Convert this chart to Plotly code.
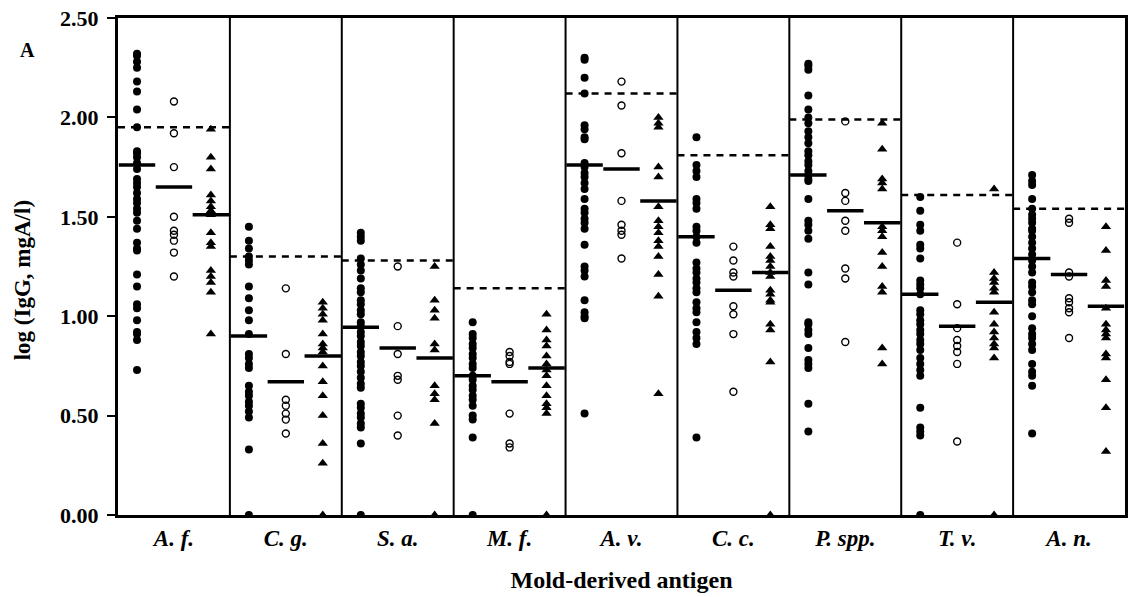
import plotly.graph_objects as go

categories = ["A. f.", "C. g.", "S. a.", "M. f.", "A. v.", "C. c.", "P. spp.", "T. v.", "A. n."]

# Group 1 (filled circles)
filled = [
    [2.32, 2.31, 2.28, 2.25, 2.18, 2.13, 2.04, 1.95, 1.83, 1.82, 1.80, 1.77, 1.74, 1.69, 1.67, 1.65, 1.62, 1.59, 1.57, 1.54, 1.52, 1.48, 1.44, 1.37, 1.34, 1.33, 1.21, 1.15, 1.06, 1.04, 0.98, 0.92, 0.91, 0.88, 0.73],
    [1.45, 1.38, 1.34, 1.30, 1.28, 1.26, 1.15, 1.09, 1.03, 0.98, 0.91, 0.81, 0.79, 0.76, 0.74, 0.65, 0.62, 0.60, 0.57, 0.55, 0.52, 0.49, 0.33, 0.0],
    [1.42, 1.40, 1.38, 1.29, 1.26, 1.23, 1.19, 1.14, 1.12, 1.08, 1.06, 1.03, 1.01, 0.97, 0.95, 0.92, 0.90, 0.87, 0.85, 0.82, 0.80, 0.77, 0.75, 0.72, 0.69, 0.66, 0.64, 0.56, 0.54, 0.51, 0.49, 0.46, 0.44, 0.36, 0.0],
    [0.97, 0.91, 0.89, 0.86, 0.84, 0.81, 0.79, 0.76, 0.74, 0.70, 0.68, 0.65, 0.63, 0.60, 0.58, 0.55, 0.50, 0.48, 0.39, 0.0],
    [2.30, 2.29, 2.20, 2.12, 1.96, 1.94, 1.90, 1.89, 1.77, 1.75, 1.72, 1.70, 1.67, 1.64, 1.59, 1.54, 1.52, 1.49, 1.47, 1.44, 1.36, 1.25, 1.23, 1.20, 1.08, 1.02, 1.00, 0.99, 0.51],
    [1.90, 1.76, 1.73, 1.70, 1.59, 1.57, 1.54, 1.45, 1.43, 1.40, 1.37, 1.27, 1.24, 1.22, 1.19, 1.17, 1.14, 1.12, 1.07, 1.04, 1.02, 0.97, 0.92, 0.89, 0.86, 0.39],
    [2.27, 2.26, 2.24, 2.11, 2.04, 2.00, 1.97, 1.93, 1.90, 1.87, 1.83, 1.81, 1.78, 1.76, 1.73, 1.71, 1.69, 1.68, 1.59, 1.48, 1.46, 1.43, 1.39, 1.22, 1.16, 0.97, 0.96, 0.93, 0.91, 0.84, 0.78, 0.76, 0.74, 0.56, 0.42],
    [1.60, 1.53, 1.46, 1.43, 1.36, 1.34, 1.29, 1.18, 1.16, 1.14, 1.11, 1.03, 1.01, 0.98, 0.96, 0.93, 0.91, 0.88, 0.86, 0.83, 0.79, 0.76, 0.73, 0.70, 0.54, 0.44, 0.42, 0.40, 0.0],
    [1.71, 1.68, 1.66, 1.59, 1.54, 1.51, 1.49, 1.47, 1.44, 1.43, 1.40, 1.37, 1.34, 1.31, 1.28, 1.25, 1.22, 1.17, 1.15, 1.12, 1.08, 1.06, 1.00, 0.94, 0.91, 0.89, 0.86, 0.83, 0.76, 0.72, 0.70, 0.65, 0.41],
]

# Group 2 (open circles)
open_c = [
    [2.08, 1.92, 1.75, 1.50, 1.43, 1.41, 1.38, 1.32, 1.20],
    [1.14, 0.81, 0.58, 0.55, 0.51, 0.48, 0.41],
    [1.25, 0.95, 0.81, 0.70, 0.68, 0.50, 0.40],
    [0.82, 0.80, 0.77, 0.76, 0.51, 0.36, 0.34],
    [2.18, 2.06, 1.82, 1.58, 1.46, 1.43, 1.41, 1.29],
    [1.35, 1.28, 1.22, 1.20, 1.05, 1.01, 0.91, 0.62],
    [1.98, 1.62, 1.58, 1.48, 1.43, 1.24, 1.19, 0.87],
    [1.37, 1.06, 0.94, 0.88, 0.85, 0.82, 0.76, 0.37],
    [1.49, 1.47, 1.22, 1.20, 1.09, 1.07, 1.04, 1.02, 0.89],
]

# Group 3 (filled triangles)
triangles = [
    [1.94, 1.80, 1.74, 1.61, 1.58, 1.55, 1.53, 1.51, 1.42, 1.37, 1.35, 1.23, 1.20, 1.17, 1.12, 0.91],
    [1.07, 1.04, 1.01, 0.98, 0.91, 0.86, 0.84, 0.82, 0.75, 0.67, 0.60, 0.50, 0.36, 0.26, 0.0],
    [1.25, 1.08, 1.03, 0.99, 0.86, 0.83, 0.65, 0.61, 0.58, 0.46, 0.0],
    [1.01, 0.93, 0.88, 0.85, 0.80, 0.76, 0.73, 0.70, 0.65, 0.60, 0.56, 0.54, 0.51, 0.0],
    [2.00, 1.97, 1.95, 1.75, 1.70, 1.55, 1.48, 1.45, 1.42, 1.38, 1.35, 1.30, 1.21, 1.10, 0.61],
    [1.55, 1.46, 1.44, 1.35, 1.30, 1.28, 1.25, 1.22, 1.20, 1.13, 1.11, 1.08, 1.07, 0.96, 0.93, 0.77, 0.0],
    [1.97, 1.84, 1.69, 1.67, 1.64, 1.45, 1.43, 1.40, 1.32, 1.25, 1.15, 1.12, 0.84, 0.76],
    [1.64, 1.22, 1.19, 1.17, 1.14, 1.12, 1.02, 0.96, 0.92, 0.89, 0.86, 0.84, 0.79, 0.0],
    [1.45, 1.33, 1.18, 1.15, 1.04, 0.96, 0.93, 0.91, 0.89, 0.81, 0.79, 0.68, 0.54, 0.32],
]

median_filled = [1.76, 0.90, 0.945, 0.70, 1.76, 1.40, 1.71, 1.11, 1.29]
median_open = [1.65, 0.67, 0.84, 0.67, 1.74, 1.13, 1.53, 0.95, 1.21]
median_tri = [1.51, 0.80, 0.79, 0.74, 1.58, 1.22, 1.47, 1.07, 1.05]
thresholds = [1.95, 1.30, 1.28, 1.14, 2.12, 1.81, 1.99, 1.61, 1.54]

y_ticks = [0.0, 0.5, 1.0, 1.5, 2.0, 2.5]
y_tick_text = ["0.00", "0.50", "1.00", "1.50", "2.00", "2.50"]

FONT = "Liberation Serif, Times New Roman, serif"
offsets = [-0.33, 0.0, 0.33]

fig = go.Figure()

def group_xy(groups, off):
    xs, ys = [], []
    for i, vals in enumerate(groups):
        xs += [i + off] * len(vals)
        ys += vals
    return xs, ys

# thresholds (dashed)
tx, ty = [], []
for i, t in enumerate(thresholds):
    tx += [i - 0.5, i + 0.5, None]
    ty += [t, t, None]
fig.add_trace(go.Scatter(x=tx, y=ty, mode="lines",
                         line=dict(color="black", width=2.5, dash="7px,6px"),
                         hoverinfo="skip", showlegend=False))

x, y = group_xy(filled, offsets[0])
fig.add_trace(go.Scatter(x=x, y=y, mode="markers",
                         marker=dict(symbol="circle", size=8, color="black", line=dict(width=0)),
                         showlegend=False))
x, y = group_xy(open_c, offsets[1])
fig.add_trace(go.Scatter(x=x, y=y, mode="markers",
                         marker=dict(symbol="circle-open", size=7, color="black", line=dict(width=1.4, color="black")),
                         showlegend=False))
x, y = group_xy(triangles, offsets[2])
fig.add_trace(go.Scatter(x=x, y=y, mode="markers",
                         marker=dict(symbol="triangle-up", size=9, color="black", line=dict(width=0)),
                         showlegend=False))

# median bars
for med, off in zip([median_filled, median_open, median_tri], offsets):
    fig.add_trace(go.Scatter(x=[i + off for i in range(len(med))], y=med, mode="markers",
                             marker=dict(symbol="line-ew", size=26, color="black",
                                         line=dict(width=3.5, color="black")),
                             showlegend=False))

# panel separators
shapes = []
for i in range(len(categories) - 1):
    shapes.append(dict(type="line", xref="x", yref="paper", x0=i + 0.5, x1=i + 0.5, y0=0, y1=1,
                       line=dict(color="black", width=2)))

fig.update_layout(
    width=1132, height=597,
    margin=dict(l=118, r=4, t=18, b=82),
    paper_bgcolor="white", plot_bgcolor="white",
    shapes=shapes,
    font=dict(family=FONT, color="black"),
    xaxis=dict(
        range=[-0.5, len(categories) - 0.5],
        tickmode="array", tickvals=list(range(len(categories))), ticktext=categories,
        tickfont=dict(family=FONT, size=23, weight="bold", style="italic", color="black"),
        ticks="", showgrid=False, zeroline=False,
        showline=True, linewidth=3, linecolor="black", mirror=True,
        title=dict(text="Mold-derived antigen", font=dict(family=FONT, size=24, weight="bold"), standoff=22),
    ),
    yaxis=dict(
        range=[0, 2.5],
        tickmode="array", tickvals=y_ticks, ticktext=y_tick_text,
        tickfont=dict(family=FONT, size=22, weight="bold", color="black"),
        ticks="outside", ticklen=8, tickwidth=2, tickcolor="black",
        showgrid=False, zeroline=False,
        showline=True, linewidth=3, linecolor="black", mirror=True,
        ticklabelstandoff=4,
    ),
    annotations=[
        dict(text="log (IgG, mgA/l)", xref="paper", yref="paper", x=(22 - 118) / 1010,
             y=(515 - 280) / 497, textangle=-90, showarrow=False,
             font=dict(family=FONT, size=23, weight="bold"), xanchor="center", yanchor="middle"),
        dict(text="A", xref="paper", yref="paper", x=(27 - 118) / 1010, y=(515 - 50) / 497,
             showarrow=False, font=dict(family=FONT, size=20, weight="bold"),
             xanchor="center", yanchor="middle"),
    ],
)

fig.write_html("out.html")
